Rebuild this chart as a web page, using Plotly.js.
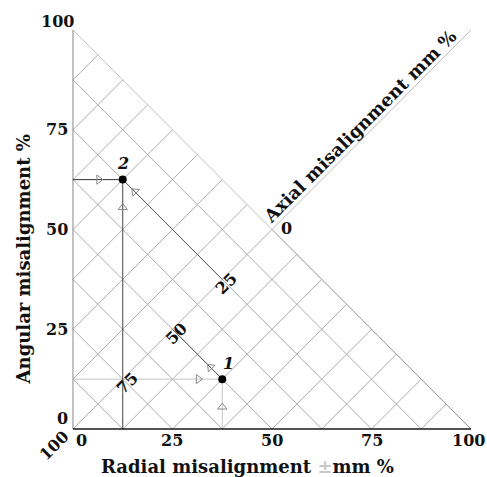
<!DOCTYPE html>
<html>
<head>
<meta charset="utf-8">
<script src="https://cdn.plot.ly/plotly-3.0.1.min.js"></script>
<style>html,body{margin:0;padding:0;background:#fff;}#chart{width:487px;height:477px;}</style>
</head>
<body>
<div id="chart"></div>
<script>
// ---- data ----
const radialTicks = [0, 25, 50, 75, 100];
const angularTicks = [0, 25, 50, 75, 100];
const axialTicks = [0, 25, 50, 75, 100];
const pointNames = ['1', '2'];
const radialPct = [37.5, 12.5];
const angularPct = [12.5, 62.5];
const gridStep = 12.5;
const xTitle = 'Radial misalignment <span style="color:#c8c8c8">±</span>mm %';
const yTitle = 'Angular misalignment %';
const axialTitle = 'Axial misalignment mm %';

// ---- helpers ----
const FONT = 'DejaVu Serif, Liberation Serif, serif';
const traces = [];
function seg(xs, ys, color, width) {
  traces.push({x: xs, y: ys, mode: 'lines', line: {color: color, width: width || 1},
    hoverinfo: 'skip', showlegend: false, type: 'scatter'});
}

// grid: x+y = c lines and y-x = d lines
const gx = [], gy = [];
for (let c = gridStep; c < 100; c += gridStep) {
  gx.push(0, c, null); gy.push(c, 0, null);
}
for (let d = -100 + gridStep; d < 100; d += gridStep) {
  const x0 = d >= 0 ? 0 : -d, y0 = d >= 0 ? d : 0;
  gx.push(x0, (100 - d) / 2, null); gy.push(y0, (100 + d) / 2, null);
}
seg(gx, gy, '#acacac', 1);
// hypotenuse
seg([0, 50], [100, 50], '#c0c0c0', 1);
seg([50, 100], [50, 0], '#929292', 1);
// axial axis extension
seg([50, 100], [50, 100], '#bdbdbd', 1);
// left axis
seg([0, 0], [0, 100], '#888', 1);

// projection lines
const projColors = [['#c4c4c4', '#c4c4c4', '#555'], ['#333', '#444', '#555']];
const arrowX = [], arrowY = [], arrowSym = [], arrowAng = [];
for (let i = 0; i < pointNames.length; i++) {
  const r = radialPct[i], a = angularPct[i];
  const s = r + a;
  seg([0, r], [a, a], projColors[i][0], 1);
  seg([r, r], [0, a], projColors[i][1], 1);
  // line of constant axial value from the point to the axial axis (y = x)
  seg([r, s / 2], [a, s / 2], projColors[i][2], 1);
  const dir = (s / 2 - r) > 0 ? 1 : -1;
  arrowX.push(r - 6, r, r + dir * 3);
  arrowY.push(a, a - 7, a - dir * 3);
  arrowSym.push('triangle-right-open', 'triangle-up-open', 'triangle-up-open');
  arrowAng.push(0, 0, -45);
}
// bottom axis
seg([0, 100], [0, 0], '#1a1a1a', 1.6);

traces.push({x: arrowX, y: arrowY, mode: 'markers', type: 'scatter', hoverinfo: 'skip', showlegend: false,
  marker: {symbol: arrowSym, angle: arrowAng, size: 8, color: '#8a8a8a', line: {width: 1, color: '#8a8a8a'}}});
traces.push({x: radialPct, y: angularPct, mode: 'markers', type: 'scatter', hoverinfo: 'skip', showlegend: false,
  cliponaxis: false, marker: {symbol: 'circle', size: 8, color: '#000'}});

// ---- annotations ----
const tickFont = {family: FONT, size: 16, color: '#111'};
const ann = [];
angularTicks.forEach(v => {
  const a = {x: 0, y: v, xref: 'x', yref: 'y', text: '<b>' + v + '</b>', showarrow: false,
    xanchor: 'right', yanchor: 'middle', xshift: -3, font: tickFont};
  if (v === 0) a.yshift = 11;
  if (v === 100) { a.yshift = 8; a.xshift = 3; }
  ann.push(a);
});
radialTicks.forEach(v => {
  const a = {x: v, y: 0, xref: 'x', yref: 'y', text: '<b>' + v + '</b>', showarrow: false,
    xanchor: 'center', yanchor: 'middle', yshift: -11, font: tickFont};
  if (v === 0) a.xshift = 9;
  if (v === 100) { a.xanchor = 'right'; a.xshift = 16; }
  ann.push(a);
});
axialTicks.forEach(v => {
  const t = (100 - v) / 2;
  const a = {x: t, y: t, xref: 'x', yref: 'y', text: '<b>' + v + '</b>', showarrow: false,
    xanchor: 'center', yanchor: 'middle', textangle: -45, xshift: 4, yshift: -4, font: tickFont};
  if (v === 0) { a.textangle = 0; a.xshift = 14; a.yshift = 1; }
  if (v === 100) { a.xshift = -19; a.yshift = -16; }
  ann.push(a);
});
pointNames.forEach((n, i) => {
  ann.push({x: radialPct[i], y: angularPct[i], xref: 'x', yref: 'y', text: '<b><i>' + n + '</i></b>',
    showarrow: false, xanchor: 'center', yanchor: 'middle', xshift: i === 0 ? 6 : 0, yshift: 16,
    font: {family: FONT, size: 16, color: '#111'}});
});
const titleFont = {family: FONT, size: 18, color: '#111'};
ann.push({xref: 'paper', yref: 'paper', x: 0.44, y: 0, yshift: -33, text: '<b>' + xTitle + '</b>',
  showarrow: false, xanchor: 'center', yanchor: 'middle', font: titleFont});
ann.push({x: 0, y: 42.5, xref: 'x', yref: 'y', xshift: -50, text: '<b>' + yTitle + '</b>', textangle: -90,
  showarrow: false, xanchor: 'center', yanchor: 'middle', font: titleFont});
ann.push({x: 72, y: 72, xref: 'x', yref: 'y', yshift: 15, text: '<b>' + axialTitle + '</b>', textangle: -45,
  showarrow: false, xanchor: 'center', yanchor: 'middle', font: titleFont});

const axisBase = {showgrid: false, zeroline: false, showticklabels: false, showline: false, ticks: '', fixedrange: true};
const layout = {
  width: 487, height: 477,
  margin: {l: 69, r: 12, t: 26, b: 44},
  paper_bgcolor: '#fff', plot_bgcolor: '#fff',
  xaxis: Object.assign({range: [-1, 101]}, axisBase),
  yaxis: Object.assign({range: [-1, 101]}, axisBase),
  annotations: ann,
  showlegend: false
};
Plotly.newPlot('chart', traces, layout, {staticPlot: true, displayModeBar: false});
</script>
</body>
</html>
